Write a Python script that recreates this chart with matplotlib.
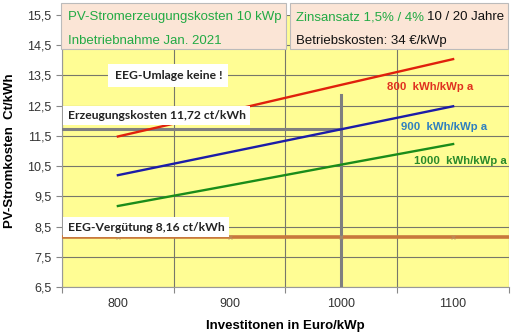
import matplotlib.pyplot as plt
from matplotlib.patches import Rectangle

# Investment per kWp and resulting electricity cost (ct/kWh) per specific yield
invest = [800, 900, 1000, 1100]
cost_800 = [11.48, 12.33, 13.19, 14.04]
cost_900 = [10.20, 10.96, 11.72, 12.48]
cost_1000 = [9.18, 9.86, 10.55, 11.23]
series_labels = ['800  kWh/kWp a', '900  kWh/kWp a', '1000  kWh/kWp a']
feed_in = 8.16        # EEG-Vergütung ct/kWh
ref_invest = 1000
ref_cost = 11.72

plt.rcParams['font.family'] = ['Liberation Sans', 'DejaVu Sans']

fig = plt.figure(figsize=(5.18, 3.35), dpi=100)
ax = fig.add_axes([0.1197, 0.1433, 0.8629, 0.8119])
ax.set_facecolor('#fffd94')

ax.set_xlim(750, 1150)
ax.set_ylim(6.5, 15.5)

# category style axis: ticks between labels
ax.set_xticks([750, 850, 950, 1050, 1150])
ax.set_xticklabels([])
ax.set_xticks(invest, minor=True)
ax.set_xticklabels([str(v) for v in invest], minor=True)
ax.tick_params(axis='x', which='minor', length=0, pad=8, labelsize=9, labelcolor='#333333')
ax.tick_params(axis='x', which='major', length=4, color='#888888')
yt = [6.5 + i for i in range(10)]
ax.set_yticks(yt)
ax.set_yticklabels([f'{v:.1f}'.replace('.', ',') for v in yt])
ax.tick_params(axis='y', length=4, color='#888888', labelsize=9, labelcolor='#333333')

ax.grid(True, which='major', color='#77776a', linewidth=0.8)
ax.set_axisbelow(True)
for s in ['top', 'right']:
    ax.spines[s].set_visible(False)
for s in ['left', 'bottom']:
    ax.spines[s].set_color('#999999')

# feed-in tariff line
ax.axhline(feed_in, color='#c8783c', linewidth=2.6, zorder=3)
ax.plot(invest, [feed_in] * 4, linestyle='none', marker='x', markersize=3,
        color='#b89060', alpha=0.6, zorder=4)

# reference crosshair
ax.plot([ref_invest, ref_invest], [6.5, 12.85], color='#7f7f7f', linewidth=2.2, zorder=3)
ax.plot([750, ref_invest], [ref_cost, ref_cost], color='#7f7f7f', linewidth=2.2, zorder=3)

ax.plot(invest, cost_800, color='#e0200c', linewidth=1.7, zorder=5)
ax.plot(invest, cost_900, color='#1c1ca8', linewidth=1.7, zorder=5)
ax.plot(invest, cost_1000, color='#1a8c1a', linewidth=1.7, zorder=5)

lbl = dict(fontsize=8.2, fontweight='bold', va='center', zorder=6,
           family=['Liberation Sans'])
ax.text(1041, 13.12, series_labels[0], color='#e03020', **lbl)
ax.text(1053, 11.79, series_labels[1], color='#2f80c0', **lbl)
ax.text(1065, 10.67, series_labels[2], color='#2a8a2a', **lbl)

box = dict(boxstyle='square,pad=0.35', facecolor='white', edgecolor='none')
bold = dict(fontsize=8.7, fontweight='bold', family=['Lato', 'DejaVu Sans'],
            color='#222222', va='center', zorder=6)
ax.text(797, 13.51, 'EEG-Umlage keine !',
        bbox=dict(boxstyle='square,pad=0.5', facecolor='white', edgecolor='none'), **bold)
ax.text(755, 12.17, 'Erzeugungskosten 11,72 ct/kWh', bbox=box, **bold)
ax.text(755, 8.48, 'EEG-Vergütung 8,16 ct/kWh', bbox=box, **bold)

ax.set_xlabel('Investitonen in Euro/kWp', fontsize=9.5, fontweight='bold', labelpad=7)
ax.set_ylabel('PV-Stromkosten  Ct/kWh', fontsize=9.5, fontweight='bold', labelpad=8)

# header boxes over the top of the plot area
W, H = 518, 335
def fig_rect(x0, y0, x1, y1):
    r = Rectangle((x0 / W, 1 - y1 / H), (x1 - x0) / W, (y1 - y0) / H,
                  transform=fig.transFigure, facecolor='#fbe5d6',
                  edgecolor='#bbbbbb', linewidth=0.8, zorder=10)
    fig.add_artist(r)

fig_rect(61, 3, 286, 49)
fig_rect(290, 3, 508, 49)
green = '#22aa44'
fig.text(68 / W, 1 - 17 / H, 'PV-Stromerzeugungskosten 10 kWp', color=green,
         fontsize=9.5, va='center', zorder=11)
fig.text(68 / W, 1 - 41 / H, 'Inbetriebnahme Jan. 2021', color=green,
         fontsize=9.5, va='center', zorder=11)
t = fig.text(296 / W, 1 - 17 / H, 'Zinsansatz 1,5% / 4%', color=green,
             fontsize=9.5, va='center', zorder=11)
fig.canvas.draw()
bb = t.get_window_extent()
fig.text(bb.x1 / W + 3 / W, 1 - 17 / H, '10 / 20 Jahre', color='#111111',
         fontsize=9.5, va='center', zorder=11)
fig.text(296 / W, 1 - 41 / H, 'Betriebskosten: 34 €/kWp', color='#111111',
         fontsize=9.5, va='center', zorder=11)

fig.savefig('out.png', dpi=100)
